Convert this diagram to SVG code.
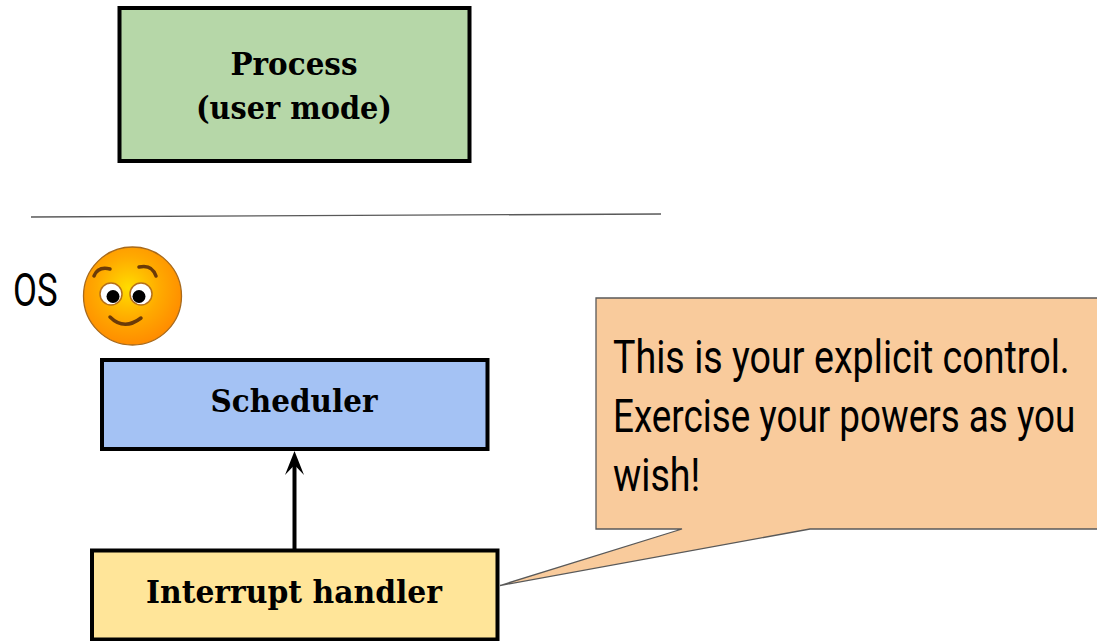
<svg xmlns="http://www.w3.org/2000/svg" width="1097" height="641" viewBox="0 0 1097 641">
<style>
.box{stroke:#000;stroke-width:4}
.t{font-family:"DejaVu Serif",serif;font-weight:700;font-size:31px;text-anchor:middle;fill:#000}
.b{font-family:Roboto,"Liberation Sans",sans-serif;font-weight:400;font-size:47px;fill:#000}
.brow{fill:none;stroke:#6b3a08;stroke-width:3.500;stroke-linecap:round}
.eye{fill:#fff;stroke:#b5701a;stroke-width:1.500}
</style>
<defs>
<radialGradient id="face" cx="0.46" cy="0.42" r="0.58"><stop offset="0" stop-color="#ffdd00"/><stop offset="0.55" stop-color="#ffaa00"/><stop offset="1" stop-color="#ff8c00"/></radialGradient>
<marker id="arrow" markerUnits="userSpaceOnUse" markerWidth="24" markerHeight="20" refX="10" refY="10" orient="auto" viewBox="0 0 24 20"><path d="M24 10L0 0.500L10 10L0 19.500Z" fill="#000"/></marker>
</defs>
<rect width="1097" height="641" fill="#fff"/>
<g id="process"><rect class="box" x="119.500" y="8" width="350" height="153" fill="#b6d7a8"/>
<text class="t" x="294" y="75" textLength="127" lengthAdjust="spacingAndGlyphs">Process</text>
<text class="t" x="294" y="119" textLength="196" lengthAdjust="spacingAndGlyphs">(user mode)</text></g>
<g id="divider"><line x1="31" y1="217" x2="661" y2="214" stroke="#595959" stroke-width="1.300"/></g>
<g id="os-label"><text class="b" transform="translate(13 306) scale(.74 1)">OS</text></g>
<g id="smiley">
<circle cx="132.500" cy="296" r="49" fill="url(#face)" stroke="#a86a1c" stroke-width="1.300"/>
<path class="brow" d="M94 276Q98 266 110 269M139 267Q152 264 156 276"/>
<circle class="eye" cx="111" cy="294" r="11"/>
<circle class="eye" cx="141" cy="294" r="11"/>
<circle cx="113" cy="296.500" r="6.500" fill="#000"/>
<circle cx="139" cy="296.500" r="6.500" fill="#000"/>
<path class="brow" d="M110 317Q124 331 141 318"/>
</g>
<g id="scheduler"><rect class="box" x="102" y="360" width="385.500" height="89" fill="#a4c2f4"/>
<text class="t" x="294" y="412" textLength="167" lengthAdjust="spacingAndGlyphs">Scheduler</text></g>
<g id="interrupt-handler"><rect class="box" x="92" y="550.500" width="405.500" height="89" fill="#ffe599"/>
<text class="t" x="294" y="603" textLength="296" lengthAdjust="spacingAndGlyphs">Interrupt handler</text></g>
<g id="connectors"><line x1="294.500" y1="549" x2="294.500" y2="465" stroke="#000" stroke-width="4" marker-end="url(#arrow)"/></g>
<g id="callout">
<path d="M1097 298H596V529H682L500 585.500L810 529H1097V298Z" fill="#f9cb9c" stroke="none"/>
<path d="M1097 298H596V529H682L500 585.500L810 529H1097" fill="none" stroke="#595959" stroke-width="1.300"/>
<text class="b" transform="translate(613 372.500) scale(.8 1)" textLength="571" lengthAdjust="spacingAndGlyphs">This is your explicit control.</text>
<text class="b" transform="translate(613 432) scale(.8 1)" textLength="578" lengthAdjust="spacingAndGlyphs">Exercise your powers as you</text>
<text class="b" transform="translate(613 491) scale(.8 1)" textLength="109" lengthAdjust="spacingAndGlyphs">wish!</text></g>
</svg>
